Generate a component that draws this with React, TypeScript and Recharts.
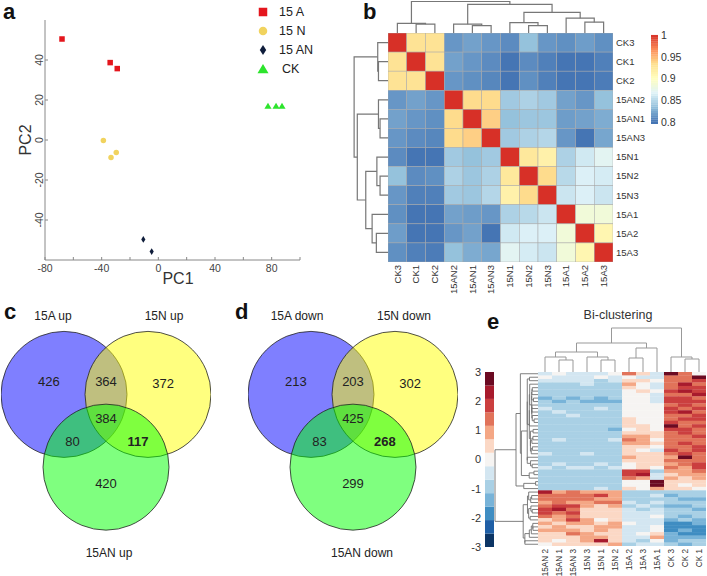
import React from 'react';
import { ScatterChart, Scatter, XAxis, YAxis, ReferenceArea, Legend } from 'recharts';

const FONT = 'Arial, "Liberation Sans", Helvetica, sans-serif';

// ---------- panel a: PCA ----------
const pc1A = [-68, -34, -29];
const pc2A = [50.5, 38.7, 35.7];
const pc1N = [-38.8, -29.7, -33.4];
const pc2N = [-0.3, -6.2, -8.8];
const pc1AN = [-10.6, -4.7];
const pc2AN = [-49.7, -55.8];
const pc1CK = [77.4, 83.1, 87.3];
const pc2CK = [17, 17, 17];
const pcaXTicks = [-80, -60, -40, -20, 0, 20, 40, 60, 80, 100];
const pcaYTicks = [-40, -20, 0, 20, 40];

// ---------- panel b: sample correlation ----------
const bNames = ['CK3', 'CK1', 'CK2', '15AN2', '15AN1', '15AN3', '15N1', '15N2', '15N3', '15A1', '15A2', '15A3'];
const bCorr = [
  [1, 0.93, 0.93, 0.815, 0.82, 0.815, 0.81, 0.835, 0.815, 0.812, 0.818, 0.812],
  [0.93, 1, 0.93, 0.82, 0.815, 0.81, 0.8, 0.81, 0.805, 0.8, 0.8, 0.805],
  [0.93, 0.93, 1, 0.815, 0.812, 0.808, 0.795, 0.812, 0.805, 0.8, 0.798, 0.803],
  [0.815, 0.82, 0.815, 1, 0.935, 0.935, 0.84, 0.845, 0.84, 0.82, 0.815, 0.835],
  [0.82, 0.815, 0.812, 0.935, 1, 0.94, 0.835, 0.838, 0.838, 0.818, 0.82, 0.825],
  [0.815, 0.81, 0.808, 0.935, 0.94, 1, 0.84, 0.845, 0.848, 0.815, 0.8, 0.822],
  [0.81, 0.8, 0.795, 0.84, 0.835, 0.84, 1, 0.925, 0.915, 0.845, 0.86, 0.87],
  [0.835, 0.81, 0.812, 0.845, 0.838, 0.845, 0.925, 1, 0.935, 0.85, 0.865, 0.862],
  [0.815, 0.805, 0.805, 0.84, 0.838, 0.848, 0.915, 0.935, 1, 0.858, 0.865, 0.858],
  [0.812, 0.8, 0.8, 0.82, 0.818, 0.815, 0.845, 0.85, 0.858, 1, 0.885, 0.885],
  [0.818, 0.8, 0.798, 0.815, 0.82, 0.8, 0.86, 0.865, 0.865, 0.885, 1, 0.91],
  [0.812, 0.805, 0.803, 0.835, 0.825, 0.822, 0.87, 0.862, 0.858, 0.885, 0.91, 1],
];
// [childA, childB, height]; leaves 0..11, merged nodes 12..
const bMerges = [
  [1, 2, 9], [0, 12, 9.7], [4, 5, 7.5], [3, 14, 9], [7, 8, 7.5], [6, 16, 10.5],
  [10, 11, 11], [9, 18, 15], [17, 19, 21], [15, 20, 29], [13, 21, 32],
];
const bTicks = [0.8, 0.85, 0.9, 0.95, 1];
const rdylbu = ['#4575B4', '#91BFDB', '#E0F3F8', '#FFFFBF', '#FEE090', '#FC8D59', '#D73027'];

// ---------- panels c, d: venn ----------
// region order: A only, N only, AN only, A∩N, A∩AN, N∩AN, all three
const upCounts = [426, 372, 420, 364, 80, 117, 384];
const downCounts = [213, 302, 299, 203, 83, 268, 425];
const vennCenters = [{ x: -0.5, y: 0 }, { x: 0.5, y: 0 }, { x: 0, y: 0.866 }];
const vennFills = ['#0000ff', '#ffff00', '#00ff00'];
const regionPos = [[-0.68, -0.15], [0.68, -0.13], [0, 1.06], [0, -0.15], [-0.4, 0.56], [0.38, 0.56], [0, 0.29]];

// ---------- panel e: bi-clustering ----------
const eNames = ['15AN 2', '15AN 1', '15AN 3', '15N 3', '15N 1', '15N 2', '15A 2', '15A 3', '15A 1', 'CK 3', 'CK 2', 'CK 1'];
const eUpper = [
  [-0.3, -0.2, -0.4, -0.3, -0.4, -0.2, 1.2, 0.4, -0.3, 2.8, 1.3, 0.1],
  [-0.2, -0.5, -0.3, -0.4, -0.2, -0.5, 0.2, -0.3, -0.4, 1.3, 1.6, 2.7],
  [-0.5, -0.4, -0.6, -0.5, -0.7, -0.4, 0.6, 0.3, -0.2, 1.5, 1.2, 1.9],
  [-0.8, -0.7, -0.9, -0.6, -0.8, -0.7, 0.9, -0.2, -0.5, 1.6, 2.1, 1.3],
  [-0.9, -1.0, -0.8, -1.0, -0.9, -0.8, 0.3, 0.1, -0.3, 1.4, 1.8, 2.0],
  [-0.7, -0.9, -1.0, -0.8, -1.1, -0.9, 0.1, 0.4, -0.1, 1.9, 2.2, 1.7],
  [-1.0, -0.8, -0.9, -1.1, -0.8, -1.0, -0.2, 0.0, -0.4, 1.6, 1.5, 2.2],
  [-1.2, -1.1, -1.3, -1.0, -1.2, -1.1, 0.0, -0.2, -0.3, 1.8, 2.0, 1.6],
  [-1.1, -1.2, -1.0, -1.2, -1.3, -1.2, -0.1, 0.1, -0.5, 2.0, 1.7, 1.9],
  [-0.8, -0.9, -0.7, -0.9, -1.0, -0.8, 0.2, -0.1, -0.2, 1.5, 1.9, 1.4],
  [-0.6, -0.7, -0.8, -0.7, -0.6, -0.9, 0.0, 0.2, 0.1, 1.7, 1.4, 1.8],
  [-0.9, -0.6, -0.7, -0.8, -0.9, -0.7, -0.1, 0.0, -0.2, 1.9, 2.1, 1.5],
  [-0.7, -0.8, -0.6, -1.0, -0.7, -0.8, 0.1, -0.2, 0.0, 1.4, 1.6, 2.0],
  [-1.0, -0.9, -1.1, -0.9, -1.0, -1.1, 0.3, 0.1, -0.1, 1.6, 1.9, 1.7],
  [-0.8, -1.0, -0.9, -1.1, -0.9, -1.0, 0.4, 0.2, 0.0, 1.8, 1.5, 1.6],
  [-0.9, -0.8, -1.0, -0.8, -1.0, -0.9, 0.5, 0.3, -0.1, 2.7, 1.4, 1.9],
  [-1.1, -1.0, -0.9, -1.0, -1.1, -1.2, 0.2, 0.4, 0.2, 1.7, 2.0, 1.5],
  [-0.9, -1.1, -1.0, -0.9, -0.8, -1.0, 0.6, 0.3, 0.4, 1.3, 1.8, 1.6],
  [-0.7, -0.8, -0.9, -0.7, -0.9, -0.8, 1.0, 0.8, 0.3, 1.5, 1.3, 1.8],
  [-0.8, -0.6, -0.7, -0.9, -0.7, -0.6, 1.3, 0.9, 0.2, 1.2, 1.6, 1.4],
  [-1.0, -0.9, -0.8, -0.8, -1.0, -0.9, 0.8, 1.1, 0.5, 1.6, 1.9, 1.3],
  [-0.9, -1.0, -1.1, -1.0, -0.9, -1.1, 0.4, 0.5, 0.0, 1.4, 1.2, 1.7],
  [-0.8, -0.9, -0.8, -0.9, -0.8, -0.7, 0.3, 0.2, -0.3, 1.8, 1.5, 2.0],
  [-0.6, -0.7, -0.8, -0.6, -0.8, -0.7, 0.6, 0.4, 0.3, 1.2, 1.7, 1.5],
  [-0.8, -0.9, -0.7, -0.9, -0.7, -0.8, 0.7, 0.5, 0.6, 1.1, 2.8, 1.3],
  [-0.9, -0.8, -1.0, -0.8, -0.9, -1.0, 0.4, 0.6, 0.5, 1.3, 1.6, 1.2],
  [-0.7, -0.6, -0.8, -0.7, -0.6, -0.8, 0.2, 0.3, 0.4, 1.0, 1.4, 2.0],
  [-0.6, -0.7, -0.6, -0.5, -0.7, -0.6, 0.1, 0.4, -0.2, 1.4, 1.1, 1.7],
  [-1.0, -1.1, -0.9, -1.0, -1.1, -1.0, 1.7, 1.9, -0.8, 0.8, 1.0, 1.2],
  [-1.1, -1.0, -1.1, -0.9, -1.0, -1.1, 1.9, 2.1, -0.6, 0.6, 0.9, 0.8],
  [-0.9, -1.0, -0.8, -1.0, -0.9, -0.8, 1.2, 1.0, -0.3, 0.7, 0.5, 1.1],
  [-0.8, -0.7, -0.9, -0.8, -0.7, -0.9, 0.0, 0.2, 2.8, 0.4, 0.3, 0.6],
  [-0.9, -0.8, -0.8, -0.7, -0.9, -0.8, -0.1, 0.1, 2.9, 0.3, 0.2, 0.5],
  [-0.7, -0.8, -0.7, -0.8, -0.6, -0.7, 0.3, -0.2, 0.8, 0.5, 0.4, -0.2],
];
const eLower = [
  [2.3, 1.0, 1.3, 0.8, 0.9, 1.1, -0.8, -0.7, -0.9, -1.0, -1.1, -0.9],
  [1.2, 1.5, 1.6, 1.3, 1.8, 1.0, -0.7, -0.9, -0.6, -1.2, -1.0, -1.1],
  [1.6, 1.2, 1.4, 1.5, 1.1, 0.8, -0.9, -0.8, -0.7, -1.1, -1.3, -1.2],
  [0.9, 1.4, 1.1, 0.7, 1.4, 1.2, -0.6, -0.7, -0.5, -1.0, -1.1, -1.0],
  [1.4, 1.9, 1.7, 1.0, 0.6, 0.9, -0.8, -0.6, -0.9, -1.3, -1.2, -1.1],
  [1.8, 2.1, 1.5, 0.5, 0.4, 0.6, -0.5, -0.8, -0.4, -0.9, -1.0, -1.2],
  [2.0, 1.6, 1.9, 0.6, 0.3, 0.5, -0.4, -0.3, -0.6, -1.1, -0.9, -1.0],
  [1.3, 1.1, 1.6, 0.3, 0.5, 0.4, -0.6, -0.5, -0.2, -1.0, -1.2, -0.9],
  [0.6, 0.9, 1.8, 1.0, 0.2, 0.5, -0.3, -0.6, -0.5, -1.2, -1.0, -1.3],
  [0.8, 0.5, 0.7, 0.8, 0.6, 0.9, -0.2, -0.4, -0.3, -1.7, -1.8, -1.6],
  [0.5, 0.8, 0.6, 0.6, 0.9, 0.7, -0.5, -0.3, -0.1, -1.9, -1.8, -2.0],
  [1.0, 0.7, 0.9, 0.5, 0.7, 0.4, -0.4, -0.6, -0.2, -1.8, -1.6, -1.9],
  [0.4, 0.6, 1.2, 0.9, 0.5, 0.6, -0.3, -0.2, 0.3, -1.5, -1.7, -2.0],
  [0.3, 0.4, 0.5, 1.0, 0.8, 0.3, -0.6, -0.4, 0.8, -1.4, -1.5, -1.6],
  [0.6, 0.2, 0.4, 0.7, 2.5, 0.4, -0.5, -0.7, -0.2, -1.2, -1.1, -1.0],
  [0.2, 0.5, 0.3, 0.4, 0.6, 0.8, -0.7, -0.5, -0.6, -1.0, -1.2, -1.1],
];
const eMerges = [
  [1, 2, 12], [0, 12, 15], [4, 5, 12], [3, 14, 15], [13, 15, 20], [6, 7, 14],
  [17, 8, 24], [16, 18, 29], [10, 11, 13], [9, 20, 15], [19, 21, 44],
];
const ePalette = ['#0c3565', '#1f5fa6', '#3f8dc2', '#78b3d8', '#a9d0e5', '#d3e6f1', '#f6f4f2',
  '#fbd8c5', '#f4a785', '#e1735a', '#cb3f3f', '#a81b2d', '#6b0a22'];
const eTicks = [-3, -2, -1, 0, 1, 2, 3];

// ---------- helpers ----------
const hex = (h: string) => [1, 3, 5].map((i) => parseInt(h.slice(i, i + 2), 16));
const colorB = (v: number) => {
  const t = Math.min(1, Math.max(0, (v - 0.8) / 0.2)) * (rdylbu.length - 1);
  const i = Math.min(rdylbu.length - 2, Math.floor(t));
  const f = t - i;
  const a = hex(rdylbu[i]);
  const b = hex(rdylbu[i + 1]);
  return `rgb(${a.map((c, k) => Math.round(c + (b[k] - c) * f)).join(',')})`;
};
const colorE = (v: number) => {
  const step = 6 / ePalette.length;
  return ePalette[Math.min(ePalette.length - 1, Math.max(0, Math.floor((v + 3) / step)))];
};

function dendroLinks(merges: number[][], n: number) {
  const pos: number[] = [];
  const hgt: number[] = [];
  for (let i = 0; i < n; i++) { pos[i] = i + 0.5; hgt[i] = 0; }
  return merges.map(([a, b, h], k) => {
    pos[n + k] = (pos[a] + pos[b]) / 2;
    hgt[n + k] = h;
    return [{ p: pos[a], h: hgt[a] }, { p: pos[a], h }, { p: pos[b], h }, { p: pos[b], h: hgt[b] }];
  });
}

// agglomerative clustering restricted to neighbouring rows (keeps display order)
function adjacentLinkage(rows: number[][]) {
  const dist = (i: number, j: number) => Math.sqrt(rows[i].reduce((s, v, k) => s + (v - rows[j][k]) ** 2, 0));
  let cl = rows.map((_, i) => ({ id: i, members: [i], h: 0 }));
  const merges: number[][] = [];
  let next = rows.length;
  while (cl.length > 1) {
    let best = 0;
    let bestD = Infinity;
    for (let i = 0; i < cl.length - 1; i++) {
      let s = 0;
      for (const a of cl[i].members) for (const b of cl[i + 1].members) s += dist(a, b);
      const d = s / (cl[i].members.length * cl[i + 1].members.length);
      if (d < bestD) { bestD = d; best = i; }
    }
    const a = cl[best];
    const b = cl[best + 1];
    const h = Math.max(bestD, a.h, b.h);
    merges.push([a.id, b.id, h]);
    cl = [...cl.slice(0, best), { id: next++, members: [...a.members, ...b.members], h }, ...cl.slice(best + 2)];
  }
  return merges;
}

const NoDot = () => <g />;
const M0 = { top: 0, right: 0, bottom: 0, left: 0 };

function Dendrogram({ merges, n, side, width, height, maxH, stroke, strokeWidth, style }: any) {
  const links = dendroLinks(merges, n);
  const top = side === 'top';
  return (
    <div style={style}>
      <ScatterChart width={width} height={height} margin={M0}>
        <XAxis type="number" dataKey={top ? 'p' : 'h'} domain={top ? [0, n] : [0, maxH]} reversed={!top} hide allowDataOverflow />
        <YAxis type="number" dataKey={top ? 'h' : 'p'} domain={top ? [0, maxH] : [0, n]} reversed={!top} hide allowDataOverflow />
        {links.map((pts, i) => (
          <Scatter key={i} data={pts} line={{ stroke, strokeWidth }} shape={NoDot} isAnimationActive={false} />
        ))}
      </ScatterChart>
    </div>
  );
}

const abs = (left: number, top: number): React.CSSProperties => ({ position: 'absolute', left, top });

function Txt({ x, y, size = 12, bold = false, rotate = 0, children, color = '#222' }: any) {
  return (
    <div style={{
      position: 'absolute', left: x, top: y, transform: `translate(-50%,-50%) rotate(${rotate}deg)`,
      fontSize: size, fontWeight: bold ? 700 : 400, color, whiteSpace: 'nowrap', fontFamily: FONT, lineHeight: 1,
    }}>{children}</div>
  );
}

function Letter({ x, y, children }: any) {
  return <div style={{ position: 'absolute', left: x, top: y, fontSize: 22, fontWeight: 700, lineHeight: '22px', fontFamily: FONT, color: '#111' }}>{children}</div>;
}

const marker = (kind: string, cx: number, cy: number, s: number, fill: string) => {
  switch (kind) {
    case 'square':
      return <rect x={cx - s / 2} y={cy - s / 2} width={s} height={s} fill={fill} />;
    case 'circle':
      return <circle cx={cx} cy={cy} r={s / 2} fill={fill} />;
    case 'diamond':
      return <polygon points={`${cx},${cy - s * 0.6} ${cx + s * 0.38},${cy} ${cx},${cy + s * 0.6} ${cx - s * 0.38},${cy}`} fill={fill} />;
    default:
      return <polygon points={`${cx},${cy - s * 0.5} ${cx + s * 0.55},${cy + s * 0.42} ${cx - s * 0.55},${cy + s * 0.42}`} fill={fill} />;
  }
};

const pcaGroups = [
  { name: '15 A', xs: pc1A, ys: pc2A, kind: 'square', color: '#e4161d' },
  { name: '15 N', xs: pc1N, ys: pc2N, kind: 'circle', color: '#f1d35e' },
  { name: '15 AN', xs: pc1AN, ys: pc2AN, kind: 'diamond', color: '#0f1d3b' },
  { name: 'CK', xs: pc1CK, ys: pc2CK, kind: 'triangle', color: '#2de42d' },
];

const PcaTickX = ({ x, y, payload }: any) => (
  <g>
    <line x1={x} x2={x} y1={y - 4} y2={y - 7} stroke="#888" />
    {payload.value % 40 === 0 && (
      <text x={x} y={y + 8} textAnchor="middle" fontSize={10.5} fill="#444" fontFamily={FONT}>{payload.value}</text>
    )}
  </g>
);
const PcaTickY = ({ x, y, payload }: any) => (
  <g>
    <line x1={x + 4} x2={x + 7} y1={y} y2={y} stroke="#888" />
    <text x={x + 2} y={y} textAnchor="middle" fontSize={10.5} fill="#444" fontFamily={FONT} transform={`rotate(-90, ${x + 2}, ${y})`}>{payload.value}</text>
  </g>
);

// legend keeps the series order of pcaGroups
const PcaLegend = ({ payload }: any) => {
  const shown = new Set((payload || []).map((it: any) => it.value));
  return (
    <div style={{ fontFamily: FONT }}>
      {pcaGroups.filter((g) => shown.has(g.name)).map((g) => (
        <div key={g.name} style={{ display: 'flex', alignItems: 'center', height: 19 }}>
          <svg width={14} height={14}>{marker(g.kind, 7, 7, g.kind === 'triangle' ? 10 : 8.5, g.color)}</svg>
          <span style={{ marginLeft: g.kind === 'triangle' ? 12 : 9, fontSize: 12.5, color: '#222' }}>{g.name}</span>
        </div>
      ))}
    </div>
  );
};

function PanelA() {
  return (
    <div style={abs(0, 0)}>
      <ScatterChart width={310} height={290} margin={{ top: 20, right: 10, bottom: 0, left: 15 }}>
        <XAxis type="number" dataKey="x" domain={[-80, 100]} ticks={pcaXTicks} interval={0} tickSize={0} tickMargin={4}
          tick={<PcaTickX />} axisLine={{ stroke: '#888' }} tickLine={false} height={30} allowDataOverflow />
        <YAxis type="number" dataKey="y" domain={[-60, 60]} ticks={pcaYTicks} interval={0} tickSize={0} tickMargin={4}
          tick={<PcaTickY />} axisLine={{ stroke: '#888' }} tickLine={false} width={30} allowDataOverflow />
        <Legend content={<PcaLegend />} layout="vertical" align="center" verticalAlign="middle"
          wrapperStyle={{ left: 256, top: 2, width: 60 }} />
        {pcaGroups.map((g) => (
          <Scatter key={g.name} name={g.name} data={g.xs.map((x, i) => ({ x, y: g.ys[i] }))} fill={g.color}
            legendType={g.kind as any} isAnimationActive={false}
            shape={(p: any) => marker(g.kind, p.cx, p.cy, g.kind === 'triangle' ? 6.5 : 5.5, g.color)} />
        ))}
      </ScatterChart>
      <Txt x={178} y={279} size={16} color="#333">PC1</Txt>
      <Txt x={26} y={140} size={16} rotate={-90} color="#333">PC2</Txt>
    </div>
  );
}

const RotTick = ({ x, y, payload, names, size }: any) => (
  <text x={x} y={y} dy="0.35em" textAnchor="end" fontSize={size} fill="#333" fontFamily={FONT}
    transform={`rotate(-90, ${x}, ${y})`}>{names[Math.floor(payload.value)]}</text>
);

function PanelB() {
  const cw = 225 / 12;
  const ch = 229 / 12;
  const cells = bCorr.flatMap((row, r) => row.map((v, c) => ({ x: c + 0.5, y: r + 0.5, v })));
  const centers = bNames.map((_, i) => i + 0.5);
  const slices = Array.from({ length: 42 }, (_, i) => 0.795 + (i * 0.21) / 42);
  return (
    <>
      <Dendrogram merges={bMerges} n={12} side="top" width={225} height={33} maxH={33.5} stroke="#777" strokeWidth={1.2} style={abs(388, 0)} />
      <Dendrogram merges={bMerges} n={12} side="left" width={36} height={229} maxH={34} stroke="#777" strokeWidth={1.2} style={abs(352, 33)} />
      <div style={abs(370, 20)}>
        <ScatterChart width={290} height={280} margin={{ top: 13, right: 7, bottom: 8, left: 18 }}>
          <XAxis type="number" dataKey="x" domain={[0, 12]} ticks={centers} interval={0} height={30} tickSize={0} tickMargin={3}
            axisLine={false} tickLine={false} tick={<RotTick names={bNames} size={9.5} />} allowDataOverflow />
          <YAxis type="number" dataKey="y" domain={[0, 12]} reversed orientation="right" ticks={centers} interval={0} width={40}
            tickSize={0} tickMargin={3} axisLine={false} tickLine={false} tickFormatter={(v: number) => bNames[Math.floor(v)]}
            tick={{ fontSize: 9.5, fill: '#333', fontFamily: FONT }} allowDataOverflow />
          <Scatter data={cells} isAnimationActive={false}
            shape={(p: any) => (
              <rect x={p.cx - cw / 2} y={p.cy - ch / 2} width={cw} height={ch} fill={colorB(p.payload.v)} stroke="#a8a8a8" strokeWidth={0.5} />
            )} />
        </ScatterChart>
      </div>
      <div style={abs(645, 28)}>
        <ScatterChart width={60} height={101} margin={{ top: 5, right: 7, bottom: 5, left: 6 }}>
          <XAxis type="number" dataKey="x" domain={[0, 1]} hide allowDataOverflow />
          <YAxis type="number" dataKey="y" domain={[0.795, 1.005]} ticks={bTicks} orientation="right" width={40} tickSize={0} tickMargin={3}
            axisLine={false} tickLine={false} tick={{ fontSize: 10.5, fill: '#333', fontFamily: FONT }} allowDataOverflow />
          {slices.map((lo, i) => (
            <ReferenceArea key={i} x1={0} x2={1} y1={lo} y2={lo + 0.21 / 42 + 0.0005} fill={colorB(lo + 0.0025)} fillOpacity={1} stroke="none" />
          ))}
        </ScatterChart>
      </div>
      <Letter x={363} y={1}>b</Letter>
    </>
  );
}

function Venn({ left, counts, titles }: any) {
  const ppu = 84;
  const circles = vennCenters.map((c, i) => ({ ...c, fill: vennFills[i] }));
  const labels = counts.map((n: number, i: number) => ({ x: regionPos[i][0], y: regionPos[i][1], n, bold: i === 5 }));
  return (
    <>
      <div style={abs(left, 302)}>
        <ScatterChart width={210} height={252} margin={M0}>
          <XAxis type="number" dataKey="x" domain={[-1.25, 1.25]} hide allowDataOverflow />
          <YAxis type="number" dataKey="y" domain={[-1.1, 1.9]} reversed hide allowDataOverflow />
          <Scatter data={circles} isAnimationActive={false}
            shape={(p: any) => <circle cx={p.cx} cy={p.cy} r={0.75 * ppu} fill={p.payload.fill} fillOpacity={0.5} stroke="#222" strokeWidth={0.8} />} />
          <Scatter data={labels} isAnimationActive={false}
            shape={(p: any) => (
              <text x={p.cx} y={p.cy} dy="0.35em" textAnchor="middle" fontSize={13} fontWeight={p.payload.bold ? 700 : 400}
                fill="#222" fontFamily={FONT}>{p.payload.n}</text>
            )} />
        </ScatterChart>
      </div>
      <Txt x={titles[0][1]} y={316}>{titles[0][0]}</Txt>
      <Txt x={titles[1][1]} y={316}>{titles[1][0]}</Txt>
      <Txt x={titles[2][1]} y={553}>{titles[2][0]}</Txt>
    </>
  );
}

function PanelE() {
  const rows = [...eUpper, ...eLower];
  const nRows = rows.length;
  const cw = 168 / 12;
  const ch = 174 / nRows;
  const cells = rows.flatMap((row, r) => row.map((v, c) => ({ x: c + 0.5, y: r + 0.5, v })));
  const rowMerges = adjacentLinkage(rows);
  const topH = rowMerges[rowMerges.length - 1][2];
  const centers = eNames.map((_, i) => i + 0.5);
  const step = 6 / ePalette.length;
  return (
    <>
      <Dendrogram merges={eMerges} n={12} side="top" width={168} height={46} maxH={46} stroke="#999" strokeWidth={1} style={abs(538, 326)} />
      <Dendrogram merges={rowMerges} n={nRows} side="left" width={48} height={174} maxH={(topH * 48) / 43} stroke="#707070" strokeWidth={0.9} style={abs(490, 372)} />
      <div style={abs(530, 365)}>
        <ScatterChart width={177} height={211} margin={{ top: 7, right: 1, bottom: 0, left: 8 }}>
          <XAxis type="number" dataKey="x" domain={[0, 12]} ticks={centers} interval={0} height={30} tickSize={0} tickMargin={3}
            axisLine={false} tickLine={false} tick={<RotTick names={eNames} size={8.2} />} allowDataOverflow />
          <YAxis type="number" dataKey="y" domain={[0, nRows]} reversed hide allowDataOverflow />
          <Scatter data={cells} isAnimationActive={false}
            shape={(p: any) => (
              <rect x={p.cx - cw / 2} y={p.cy - ch / 2} width={cw + 0.3} height={ch + 0.3} fill={colorE(p.payload.v)} />
            )} />
        </ScatterChart>
      </div>
      <div style={abs(468, 365)}>
        <ScatterChart width={27} height={190} margin={{ top: 7, right: 1, bottom: 8, left: 0 }}>
          <XAxis type="number" dataKey="x" domain={[0, 1]} hide allowDataOverflow />
          <YAxis type="number" dataKey="y" domain={[-3, 3]} ticks={eTicks} interval={0} width={17} tickSize={0} tickMargin={4}
            axisLine={false} tickLine={false} tick={{ fontSize: 11, fill: '#333', fontFamily: FONT }} allowDataOverflow />
          {ePalette.map((c, i) => (
            <ReferenceArea key={c} x1={0} x2={1} y1={-3 + i * step} y2={-3 + (i + 1) * step} fill={c} fillOpacity={1} stroke="none" />
          ))}
        </ScatterChart>
      </div>
      <Txt x={618} y={315} size={12.5} color="#333">Bi-clustering</Txt>
      <Letter x={487} y={311}>e</Letter>
    </>
  );
}

export default function App() {
  return (
    <div style={{ position: 'absolute', left: 0, top: 0, width: 707, height: 576, background: '#fff', overflow: 'hidden', fontFamily: FONT }}>
      <PanelA />
      <Letter x={3} y={1}>a</Letter>
      <PanelB />
      <Venn left={1} counts={upCounts} titles={[['15A up', 53], ['15N up', 164], ['15AN up', 109]]} />
      <Letter x={4} y={301}>c</Letter>
      <Venn left={248} counts={downCounts} titles={[['15A down', 297], ['15N down', 404], ['15AN down', 362]]} />
      <Letter x={235} y={301}>d</Letter>
      <PanelE />
    </div>
  );
}
